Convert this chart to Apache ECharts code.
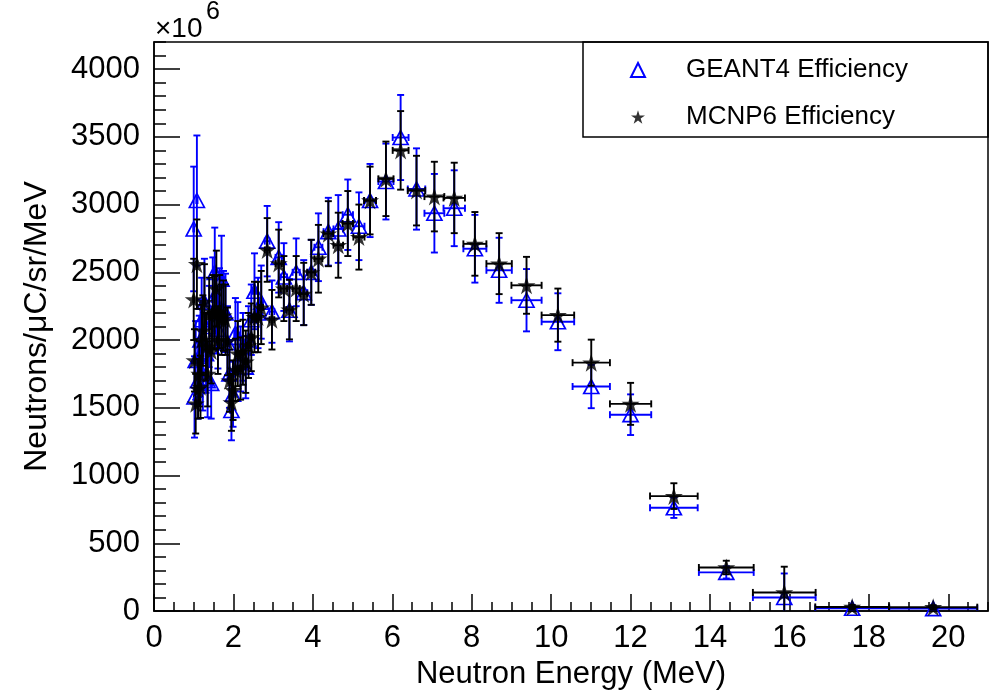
<!DOCTYPE html>
<html>
<head>
<meta charset="utf-8">
<script src="https://cdn.jsdelivr.net/npm/echarts@6/dist/echarts.min.js"></script>
<style>
html,body{margin:0;padding:0;background:#fff;}
#chart{width:995px;height:695px;}
</style>
</head>
<body>
<div id="chart"></div>
<script>
// Neutron energy bin centres (MeV) and half widths
const energy = [1.00,1.02,1.05,1.08,1.11,1.14,1.17,1.20,1.23,1.27,
  1.31,1.35,1.39,1.44,1.48,1.53,1.57,1.61,1.65,1.70,
  1.75,1.80,1.85,1.90,1.95,1.99,
  2.05,2.11,2.18,2.24,2.31,2.38,2.45,2.53,2.62,2.70,
  2.85,2.97,3.14,3.27,3.41,3.58,3.77,3.96,4.14,
  4.39,4.64,4.88,5.16,5.44,
  5.84,6.21,6.61,7.06,7.56,8.08,8.69,9.38,10.17,11.01,
  12.00,13.09,14.41,15.87,17.58,19.62];
const energyErr = [0.01,0.01,0.015,0.015,0.015,0.015,0.015,0.015,0.02,0.02,
  0.02,0.02,0.02,0.025,0.025,0.025,0.025,0.025,0.025,0.025,
  0.025,0.03,0.03,0.03,0.03,0.03,
  0.03,0.035,0.035,0.035,0.035,0.04,0.04,0.04,0.045,0.045,
  0.06,0.06,0.08,0.08,0.08,0.09,0.09,0.1,0.1,
  0.12,0.12,0.13,0.14,0.15,
  0.19,0.2,0.22,0.25,0.27,0.29,0.32,0.38,0.41,0.47,
  0.52,0.6,0.69,0.79,0.93,1.11];
// Yields in units of 10^6 neutrons/uC/sr/MeV
const geant4 = [2820,1580,1850,3030,1700,1880,2000,2150,1750,2280,
  1900,1700,2100,1680,2300,2500,2200,2080,2230,2450,
  2220,2200,1980,1750,1480,1600,
  2050,2020,1860,1950,1800,2000,2150,2360,2200,2280,
  2730,2210,2610,2465,2220,2500,2350,2500,2685,
  2800,2820,2925,2840,3030,
  3170,3495,3115,2936,2973,2674,2515,2294,2135,1657,
  1449,762,285,100,20,18];
const geant4Err = [460,300,290,480,280,300,300,310,270,320,
  290,270,300,260,310,330,300,290,300,320,
  290,290,270,250,220,240,
  260,260,240,250,230,250,260,280,260,270,
  260,230,260,250,230,250,240,240,250,
  250,250,260,250,270,
  280,314,300,290,280,250,240,230,210,160,
  150,75,45,177,20,18];
const mcnp6 = [2300,1850,1530,2560,1640,1750,1655,2000,2070,2280,
  1950,1750,2190,1920,2210,2200,2380,2000,2210,2150,
  2180,2150,1990,1700,1540,1630,
  1780,1900,1790,1910,1840,1960,2020,2170,2170,2240,
  2665,2150,2565,2380,2225,2380,2340,2500,2600,
  2785,2700,2860,2760,3030,
  3190,3400,3103,3059,3049,2710,2564,2404,2184,1833,
  1529,848,321,137,30,28];
const mcnp6Err = [300,230,220,330,220,240,230,260,260,280,
  250,240,270,240,270,270,280,250,270,260,
  260,260,250,230,210,220,
  230,240,230,240,230,240,250,260,260,270,
  235,220,250,240,220,240,230,240,250,
  240,240,240,240,250,
  275,290,257,257,260,235,225,210,196,170,
  155,95,50,190,15,15];
const seriesNames = ['GEANT4 Efficiency', 'MCNP6 Efficiency'];
const xTitle = 'Neutron Energy (MeV)';
const yTitle = 'Neutrons/\u03bcC/sr/MeV';

const FONT = '"Liberation Sans", Arial, Helvetica, sans-serif';
const BLUE = '#0000ff';
const STAR = 'path://M50,0 L61.2,34.5 L97.6,34.5 L68.2,55.9 L79.4,90.5 L50,69.1 L20.6,90.5 L31.8,55.9 L2.4,34.5 L38.8,34.5 Z';

const gData = energy.map((e, i) => [e, geant4[i], geant4Err[i], energyErr[i]]);
const mData = energy.map((e, i) => [e, mcnp6[i], mcnp6Err[i], energyErr[i]]);

function errRender(color) {
  return function (params, api) {
    const x = api.value(0), y = api.value(1), ey = api.value(2), ex = api.value(3);
    const c = api.coord([x, y]);
    const t = api.coord([x, y + ey]);
    const b = api.coord([x, y - ey]);
    const l = api.coord([x - ex, y]);
    const r = api.coord([x + ex, y]);
    const cap = 3.5;
    const st = () => ({ stroke: color, lineWidth: 1.9 });
    return {
      type: 'group',
      children: [
        { type: 'line', shape: { x1: c[0], y1: t[1], x2: c[0], y2: b[1] }, style: st() },
        { type: 'line', shape: { x1: c[0] - cap, y1: t[1], x2: c[0] + cap, y2: t[1] }, style: st() },
        { type: 'line', shape: { x1: c[0] - cap, y1: b[1], x2: c[0] + cap, y2: b[1] }, style: st() },
        { type: 'line', shape: { x1: l[0], y1: c[1], x2: r[0], y2: c[1] }, style: st() },
        { type: 'line', shape: { x1: l[0], y1: c[1] - cap, x2: l[0], y2: c[1] + cap }, style: st() },
        { type: 'line', shape: { x1: r[0], y1: c[1] - cap, x2: r[0], y2: c[1] + cap }, style: st() }
      ]
    };
  };
}

const chart = echarts.init(document.getElementById('chart'), null, { renderer: 'canvas' });
const axisLineStyle = { color: '#000', width: 1.5 };
chart.setOption({
  animation: false,
  backgroundColor: '#fff',
  grid: { left: 154, right: 7, top: 42, bottom: 84, show: true, borderColor: '#000', borderWidth: 1.5, backgroundColor: 'transparent' },
  legend: {
    data: seriesNames,
    orient: 'vertical',
    left: 625, top: 52,
    itemWidth: 14, itemHeight: 14, itemGap: 21,
    textStyle: { fontFamily: FONT, fontSize: 26, color: '#000', lineHeight: 26, padding: [0, 0, 0, 36] }
  },
  graphic: [
    { type: 'rect', shape: { x: 583, y: 42, width: 405, height: 95 }, style: { fill: 'none', stroke: '#000', lineWidth: 1.5 }, z: 10 },
    { type: 'text', x: 155, y: 29, style: { text: '\u00d710', fontSize: 28, fontFamily: FONT, fill: '#000', textVerticalAlign: 'middle', verticalAlign: 'middle' } },
    { type: 'text', x: 206, y: 12, style: { text: '6', fontSize: 25, fontFamily: FONT, fill: '#000', textVerticalAlign: 'middle', verticalAlign: 'middle' } }
  ],
  xAxis: [
    {
      type: 'value', min: 0, max: 21, interval: 2,
      name: xTitle, nameLocation: 'middle', nameGap: 38,
      nameTextStyle: { fontFamily: FONT, fontSize: 31, color: '#000' },
      axisLine: { lineStyle: axisLineStyle },
      axisTick: { inside: true, length: 17, lineStyle: { color: '#000', width: 1.5 } },
      axisLabel: { showMaxLabel: false, fontFamily: FONT, fontSize: 31, color: '#000', margin: 12, formatter: v => String(v) },
      splitLine: { show: false }
    },
    {
      type: 'value', min: 0, max: 21, interval: 0.5, position: 'bottom',
      axisLine: { show: false },
      axisTick: { inside: true, length: 9, lineStyle: { color: '#000', width: 1.5 } },
      axisLabel: { show: false },
      splitLine: { show: false }
    }
  ],
  yAxis: [
    {
      type: 'value', min: 0, max: 4200, interval: 500,
      name: yTitle, nameLocation: 'middle', nameGap: 101, nameRotate: 90,
      nameTextStyle: { fontFamily: FONT, fontSize: 32, color: '#000' },
      axisLine: { show: true, lineStyle: axisLineStyle },
      axisTick: { inside: true, length: 26, lineStyle: { color: '#000', width: 1.5 } },
      axisLabel: { showMaxLabel: false, fontFamily: FONT, fontSize: 31, color: '#000', margin: 14, formatter: v => String(v) },
      splitLine: { show: false }
    },
    {
      type: 'value', min: 0, max: 4200, interval: 100, position: 'left', offset: 0,
      axisLine: { show: false },
      axisTick: { inside: true, length: 12, lineStyle: { color: '#000', width: 1.5 } },
      axisLabel: { show: false },
      splitLine: { show: false }
    }
  ],
  series: [
    {
      type: 'custom', name: 'g4err', renderItem: errRender(BLUE), data: gData, clip: true,
      encode: { x: 0, y: 1 }, z: 2, silent: true
    },
    {
      type: 'scatter', name: seriesNames[0], data: gData.map(d => [d[0], d[1]]),
      symbol: 'triangle', symbolSize: [15, 14],
      itemStyle: { color: 'rgba(255,255,255,0)', borderColor: BLUE, borderWidth: 1.7, opacity: 1 },
      z: 3
    },
    {
      type: 'custom', name: 'mcerr', renderItem: errRender('#000'), data: mData, clip: true,
      encode: { x: 0, y: 1 }, z: 4, silent: true
    },
    {
      type: 'scatter', name: seriesNames[1], data: mData.map(d => [d[0], d[1]]),
      symbol: STAR, symbolSize: 18,
      itemStyle: { color: '#000' },
      z: 5
    }
  ]
});
</script>
</body>
</html>
